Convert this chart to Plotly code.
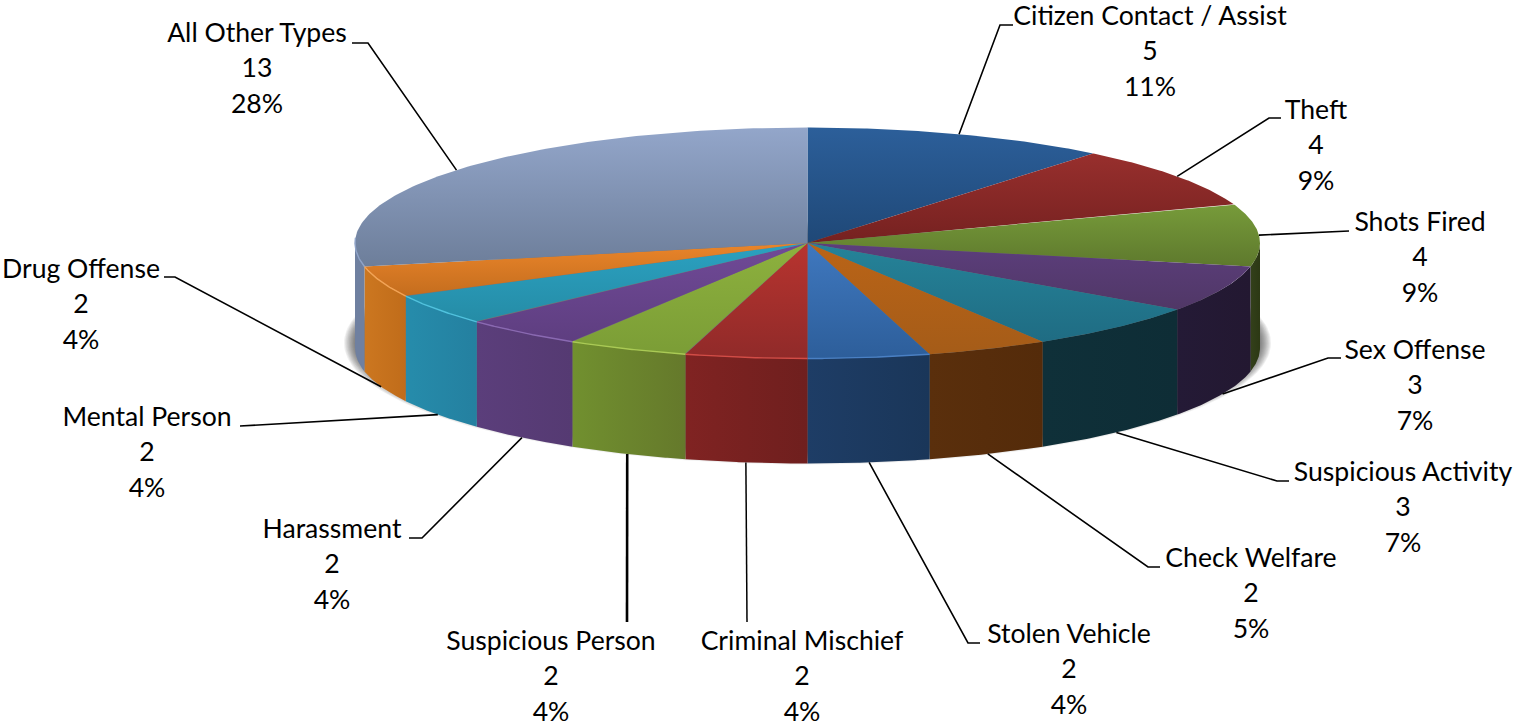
import numpy as np
import plotly.graph_objects as go

# ---- data ----
categories = ["Citizen Contact / Assist", "Theft", "Shots Fired", "Sex Offense",
              "Suspicious Activity", "Check Welfare", "Stolen Vehicle",
              "Criminal Mischief", "Suspicious Person", "Harassment",
              "Mental Person", "Drug Offense", "All Other Types"]
counts = [5, 4, 4, 3, 3, 2, 2, 2, 2, 2, 2, 2, 13]
percent_labels = ["11%", "9%", "9%", "7%", "7%", "5%", "4%", "4%", "4%", "4%", "4%", "4%", "28%"]

# ---- styles ----
top_light = ["#2c5f9a", "#982f2d", "#779b3a", "#5c3e7c", "#258399", "#ba6417", "#3f78bf",
             "#b8342f", "#8db13e", "#704a97", "#2ba1c1", "#ea852a", "#93a6ca"]
top_dark = ["#1f4877", "#752120", "#5e792d", "#503766", "#1f6c83", "#a55c18", "#2d5e9a",
            "#902a29", "#7b9d36", "#5e3e80", "#258ca6", "#c46d1e", "#6d7e9a"]
side_a = ["#1f3f6a", "#5e1a1a", "#33401a", "#241a36", "#0f3039", "#5a2f0c", "#1e3d66",
          "#802322", "#71902f", "#5b3e7b", "#268cab", "#cc7720", "#6f80a0"]
side_b = ["#1f3f6a", "#5e1a1a", "#2c3814", "#231831", "#0e2d36", "#542b0a", "#1a3659",
          "#6f1f1e", "#65792b", "#553a72", "#2480a0", "#c06c1a", "#6f80a0"]
rim = [None, None, None, None, None, None, "#4a80c4", "#d24c46", "#aaca55", "#8a69b2",
       "#50c2de", "#f2a355", "#8fa3c8"]

# ---- geometry of the drawn disc ----
CX, CY, RX, RY, DEPTH = 807.5, 243.0, 452.5, 115.5, 105.0
FONT = "Lato"
FONT_SIZE = 26.6
LINE_STEP = 35.6

# first-line centre of each label, and leader elbow / end, in the same order as categories
label_x = [1150, 1316, 1420, 1415, 1403, 1251, 1069, 802, 551, 332, 147, 81, 257]
label_y = [18, 112, 224, 352, 474, 560, 636, 643, 643, 531, 419, 271, 35]
elbow_x = [1000, 1269, 1349, 1328, 1277, 1148, 968, 747, 627, 422, 243, 175, 368]
elbow_y = [25, 118, 231, 358, 481, 567, 643, 622, 622, 538, 426, 277, 43]
end_x = [1013, 1281, 1349, 1341, 1289, 1160, 980, 747, 627, 409, 240, 164, 352]
leader_width = [1.6, 1.6, 1.6, 1.6, 1.6, 1.6, 1.6, 1.5, 2.6, 1.6, 1.6, 1.6, 1.6]


def px(t):
    return CX + RX * np.sin(t)


def py(t, drop=0.0):
    return CY - RY * np.cos(t) + drop


fig = go.Figure()
edges = np.concatenate([[0], np.cumsum(counts)]) / sum(counts) * 2 * np.pi

# soft shadow under the disc
for grow in np.arange(14, 0, -1.0):
    tt = np.linspace(0, 2 * np.pi, 240)
    fig.add_trace(go.Scatter(
        x=CX + (RX + grow - 3) * np.sin(tt),
        y=CY + DEPTH - 5 - (RY + grow - 8) * np.cos(tt),
        mode="lines", line=dict(width=0), fill="toself",
        fillcolor="rgba(40,40,40,0.07)", hoverinfo="skip", showlegend=False))

# side walls (only the front half of the disc shows)
for i in range(len(counts)):
    a, b = max(edges[i], np.pi / 2), min(edges[i + 1], 3 * np.pi / 2)
    if b <= a:
        continue
    tt = np.linspace(a, b, 60)
    fig.add_trace(go.Scatter(
        x=np.concatenate([px(tt), px(tt[::-1])]),
        y=np.concatenate([py(tt), py(tt[::-1], DEPTH)]),
        mode="lines", line=dict(width=0), fill="toself",
        fillgradient=dict(type="horizontal",
                          colorscale=[[0, side_a[i]], [1, side_b[i]]]),
        hoverinfo="skip", showlegend=False))

# top faces
for i in range(len(counts)):
    tt = np.linspace(edges[i], edges[i + 1], 120)
    ys = np.concatenate([[CY], py(tt), [CY]])
    fig.add_trace(go.Scatter(
        x=np.concatenate([[CX], px(tt), [CX]]),
        y=ys,
        mode="lines", line=dict(width=0), fill="toself",
        fillgradient=dict(type="vertical", start=float(ys.min()), stop=float(ys.max()),
                          colorscale=[[0, top_light[i]], [1, top_dark[i]]]),
        hoverinfo="skip", showlegend=False))

# thin lit rim on the left part of the front edge
for i in range(len(counts)):
    if rim[i] is None:
        continue
    tt = np.linspace(edges[i], min(edges[i + 1], 2 * np.pi if i < 12 else edges[i] + 0.25), 60)
    fig.add_trace(go.Scatter(
        x=px(tt), y=py(tt), mode="lines",
        line=dict(color=rim[i], width=1.4),
        hoverinfo="skip", showlegend=False))

# leaders start at each slice's middle, on the rim of the disc
mids = (edges[:-1] + edges[1:]) / 2
for i, m in enumerate(mids):
    front = np.pi / 2 < m < 3 * np.pi / 2
    fig.add_trace(go.Scatter(
        x=[px(m), elbow_x[i], end_x[i]],
        y=[py(m, DEPTH if front else 0.0), elbow_y[i], elbow_y[i]],
        mode="lines", line=dict(color="#000000", width=leader_width[i]),
        hoverinfo="skip", showlegend=False))

# labels: name, count, percentage on three evenly spaced lines
for i, name in enumerate(categories):
    lines = [name, str(counts[i]), percent_labels[i]]
    fig.add_trace(go.Scatter(
        x=[label_x[i]] * 3,
        y=[label_y[i] + k * LINE_STEP for k in range(3)],
        text=lines, mode="text", textposition="middle center",
        textfont=dict(family=FONT, size=FONT_SIZE, color="#000000"),
        cliponaxis=False,
        hoverinfo="skip", showlegend=False))

fig.update_layout(
    width=1514, height=726,
    margin=dict(l=0, r=0, t=0, b=0),
    paper_bgcolor="#ffffff", plot_bgcolor="#ffffff",
    showlegend=False,
    xaxis=dict(range=[0, 1514], visible=False, fixedrange=True),
    yaxis=dict(range=[726, 0], visible=False, fixedrange=True),
)
fig.write_html("out.html",
               config={"displayModeBar": False},
               post_script="document.body.style.margin='0';document.body.style.overflow='hidden';")
